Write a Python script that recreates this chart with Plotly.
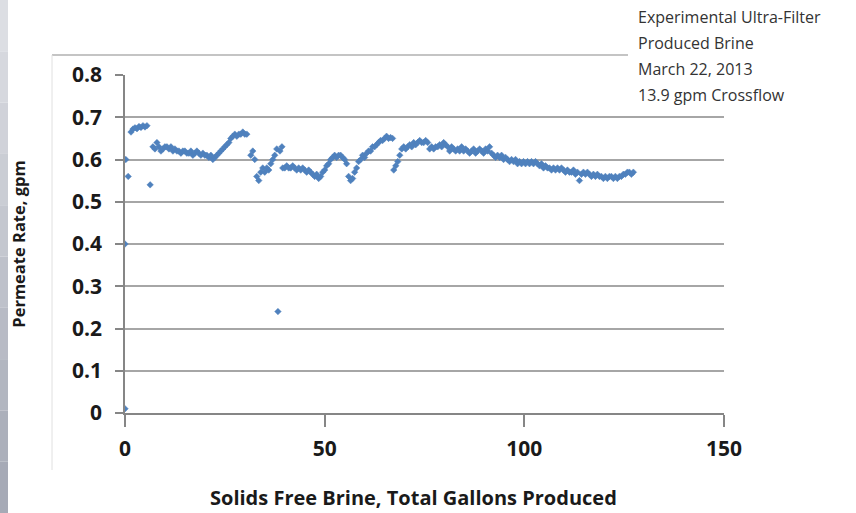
import plotly.graph_objects as go

# Permeate rate (gpm) against cumulative solids-free brine produced (gal)
gallons = [
    0, 0, 0.2, 0.8, 1.5, 2.0, 2.5, 3.0, 3.5, 4.0, 4.5, 5.0, 5.5, 6.3,
    7.0, 7.5, 8.0, 8.5, 9.0, 9.5, 10.0, 10.5, 11.0, 11.5, 12.0, 12.5, 13.0, 13.5,
    14.0, 14.5, 15.0, 15.5, 16.0, 16.5, 17.0, 17.5, 18.0, 18.5, 19.0, 19.5, 20.0,
    20.5, 21.0, 21.5, 22.0, 22.5, 23.0, 23.5, 24.0, 24.5, 25.0, 25.5, 26.0, 26.5,
    27.0, 27.5, 28.0, 28.5, 29.0, 29.5, 30.0, 30.5,
    31.5, 32.0, 32.5, 33.0, 33.5, 34.0, 34.5, 35.0, 35.5, 36.0, 36.5, 37.0, 37.5,
    38.0, 38.3, 38.8, 39.3, 39.5,
    40.0, 40.5, 41.0, 41.5, 42.0, 42.5, 43.0, 43.5, 44.0, 44.5, 45.0, 45.5, 46.0, 46.5,
    47.0, 47.5, 48.0, 48.5, 49.0, 49.5, 50.0, 50.5, 51.0, 51.5, 52.0, 52.5, 53.0,
    53.5, 54.0, 54.5, 55.0, 55.5, 56.0, 56.5, 57.0, 57.5, 58.0, 58.5, 59.0, 59.5,
    60.0, 60.5, 61.0, 61.5, 62.0, 62.5, 63.0, 63.5, 64.0, 64.5, 65.0, 65.5, 66.0,
    66.5, 67.0, 67.3, 67.8, 68.3, 68.8, 69.3, 69.8, 70.3, 70.8, 71.3, 71.8, 72.3,
    72.8, 73.3, 73.8, 74.3, 74.8, 75.3, 75.8, 76.3, 76.8, 77.3, 77.8, 78.3, 78.8,
    79.3, 79.8, 80.3, 80.8, 81.3, 81.8, 82.3, 82.8, 83.3, 83.8, 84.3, 84.8, 85.3,
    85.8, 86.3, 86.8, 87.3, 87.8, 88.3, 88.8, 89.3, 89.8, 90.3, 90.8, 91.3, 91.8,
    92.3, 92.8, 93.3, 93.8, 94.3, 94.8, 95.3, 95.8, 96.3, 96.8, 97.3, 97.8, 98.3,
    98.8, 99.3, 99.8, 100.3, 100.8, 101.3, 101.8, 102.3, 102.8, 103.3, 103.8, 104.3,
    104.8, 105.3, 105.8, 106.3, 106.8, 107.3, 107.8, 108.3, 108.8, 109.3, 109.8,
    110.3, 110.8, 111.3, 111.8, 112.3, 112.8, 113.3, 113.8, 114.3, 114.8, 115.3,
    115.8, 116.3, 116.8, 117.3, 117.8, 118.3, 118.8, 119.3, 119.8, 120.3, 120.8,
    121.3, 121.8, 122.3, 122.8, 123.3, 123.8, 124.3, 124.8, 125.3, 125.8, 126.3,
    126.8, 127.3,
]
permeate_gpm = [
    0.01, 0.40, 0.60, 0.56, 0.665, 0.672, 0.675, 0.673, 0.678, 0.676, 0.68, 0.677, 0.68, 0.54,
    0.63, 0.625, 0.64, 0.63, 0.62, 0.625, 0.63, 0.63, 0.625, 0.63, 0.62, 0.625, 0.62, 0.62,
    0.615, 0.62, 0.62, 0.615, 0.615, 0.62, 0.61, 0.615, 0.62, 0.615, 0.61, 0.615, 0.61,
    0.61, 0.605, 0.61, 0.60, 0.605, 0.61, 0.615, 0.62, 0.625, 0.63, 0.635, 0.64, 0.65,
    0.655, 0.66, 0.655, 0.66, 0.66, 0.665, 0.66, 0.66,
    0.61, 0.62, 0.60, 0.56, 0.55, 0.57, 0.58, 0.57, 0.58, 0.575, 0.59, 0.60, 0.61,
    0.625, 0.24, 0.62, 0.63, 0.58,
    0.58, 0.585, 0.58, 0.58, 0.585, 0.58, 0.575, 0.58, 0.575, 0.58, 0.575, 0.57, 0.575, 0.57,
    0.565, 0.56, 0.565, 0.555, 0.56, 0.57, 0.575, 0.585, 0.59, 0.60, 0.605, 0.61, 0.605,
    0.61, 0.61, 0.605, 0.60, 0.59, 0.56, 0.55, 0.555, 0.57, 0.58, 0.595, 0.60, 0.61,
    0.605, 0.615, 0.62, 0.62, 0.63, 0.63, 0.635, 0.64, 0.645, 0.645, 0.65, 0.655, 0.65,
    0.652, 0.65, 0.575, 0.585, 0.595, 0.61, 0.625, 0.63, 0.625, 0.63, 0.635, 0.63, 0.64,
    0.635, 0.64, 0.645, 0.64, 0.64, 0.645, 0.64, 0.625, 0.63, 0.625, 0.63, 0.63, 0.635,
    0.63, 0.64, 0.635, 0.63, 0.62, 0.63, 0.625, 0.62, 0.625, 0.62, 0.63, 0.62, 0.625,
    0.62, 0.615, 0.62, 0.625, 0.615, 0.62, 0.625, 0.62, 0.615, 0.625, 0.62, 0.63, 0.615,
    0.61, 0.605, 0.61, 0.605, 0.61, 0.60, 0.605, 0.60, 0.595, 0.60, 0.595, 0.60, 0.59,
    0.595, 0.59, 0.595, 0.59, 0.595, 0.59, 0.595, 0.59, 0.595, 0.59, 0.585, 0.59,
    0.58, 0.585, 0.58, 0.58, 0.575, 0.58, 0.575, 0.58, 0.575, 0.58, 0.575,
    0.57, 0.575, 0.57, 0.57, 0.575, 0.565, 0.57, 0.55, 0.565, 0.57, 0.565,
    0.57, 0.565, 0.56, 0.565, 0.56, 0.565, 0.56, 0.56, 0.555, 0.56, 0.555,
    0.56, 0.56, 0.555, 0.56, 0.555, 0.56, 0.56, 0.565, 0.565, 0.57, 0.57,
    0.565, 0.57,
]

x_ticks = [0, 50, 100, 150]
y_ticks = [0, 0.1, 0.2, 0.3, 0.4, 0.5, 0.6, 0.7, 0.8]
y_tick_text = ["0", "0.1", "0.2", "0.3", "0.4", "0.5", "0.6", "0.7", "0.8"]
note_lines = ["Experimental Ultra-Filter", "Produced Brine", "March 22, 2013", "13.9 gpm Crossflow"]
x_title = "Solids Free Brine, Total Gallons Produced"

BLUE = "#4f81bd"
GRID = "#a6a6a6"
AXIS = "#868686"
FONT = "'Open Sans', Lato, sans-serif"

fig = go.Figure()
fig.add_trace(go.Scatter(
    x=gallons, y=permeate_gpm, mode="markers",
    marker=dict(symbol="diamond", size=5, color=BLUE, line=dict(width=0.5, color=BLUE)),
    showlegend=False, hoverinfo="x+y",
))

shapes = []
# shaded strip along the left edge of the slide
strip_cols = ["#dcdee3", "#d6d8de", "#d0d2d9", "#cacdd4", "#c4c7cf",
              "#bec1ca", "#b8bbc5", "#b2b6c0", "#acb0bb", "#a6aab6"]
n = len(strip_cols)
for i, c in enumerate(strip_cols):
    shapes.append(dict(type="rect", xref="paper", yref="paper",
                       x0=-125 / 599, x1=-117 / 599,
                       y0=1 + 75 / 338 - (i + 1) * (513 / 338) / n,
                       y1=1 + 75 / 338 - i * (513 / 338) / n,
                       fillcolor=c, line=dict(width=0), layer="below"))
# chart frame (top and left edges)
shapes.append(dict(type="line", xref="paper", yref="paper",
                   x0=(52 - 125) / 599, x1=(628 - 125) / 599,
                   y0=(413 - 55) / 338, y1=(413 - 55) / 338,
                   line=dict(color="#b0b0b0", width=1.5)))
shapes.append(dict(type="line", xref="paper", yref="paper",
                   x0=(52 - 125) / 599, x1=(52 - 125) / 599,
                   y0=(413 - 55) / 338, y1=(413 - 470) / 338,
                   line=dict(color="#e0e0e0", width=1)))

annotations = []
for i, line in enumerate(note_lines):
    annotations.append(dict(
        text=line, xref="paper", yref="paper",
        x=(636 - 125) / 599, y=(413 - (17 + 26 * i)) / 338,
        xanchor="left", yanchor="middle", showarrow=False,
        font=dict(family=FONT, size=16, color="#333333"),
    ))
# horizontal axis title
annotations.append(dict(
    text=x_title, xref="paper", yref="paper",
    x=(413 - 125) / 599, y=(413 - 497) / 338,
    xanchor="center", yanchor="middle", showarrow=False,
    font=dict(family=FONT, size=20, color="#1a1a1a", weight="bold"),
))

fig.update_layout(
    width=856, height=513,
    margin=dict(l=125, r=132, t=75, b=100),
    paper_bgcolor="white", plot_bgcolor="white",
    shapes=shapes, annotations=annotations,
    xaxis=dict(
        range=[0, 150], tickvals=x_ticks, showgrid=False, zeroline=False,
        showline=True, linecolor=AXIS, linewidth=1.5, automargin=False,
        ticks="outside", ticklen=12, tickcolor=AXIS, tickwidth=1.5,
        ticklabelstandoff=4,
        tickfont=dict(family=FONT, size=21, color="#1a1a1a", weight="bold"),
    ),
    yaxis=dict(
        range=[0, 0.8], tickvals=y_ticks, ticktext=y_tick_text,
        showgrid=True, gridcolor=GRID, gridwidth=1.5, zeroline=False,
        showline=True, linecolor=AXIS, linewidth=1.5, automargin=False,
        ticks="outside", ticklen=8, tickcolor=AXIS, tickwidth=1.5,
        ticklabelstandoff=9,
        tickfont=dict(family=FONT, size=21, color="#1a1a1a", weight="bold"),
        title=dict(text="Permeate Rate, gpm", standoff=42,
                   font=dict(family=FONT, size=16.5, color="#1a1a1a", weight="bold")),
    ),
)

fig.write_html("out.html")
